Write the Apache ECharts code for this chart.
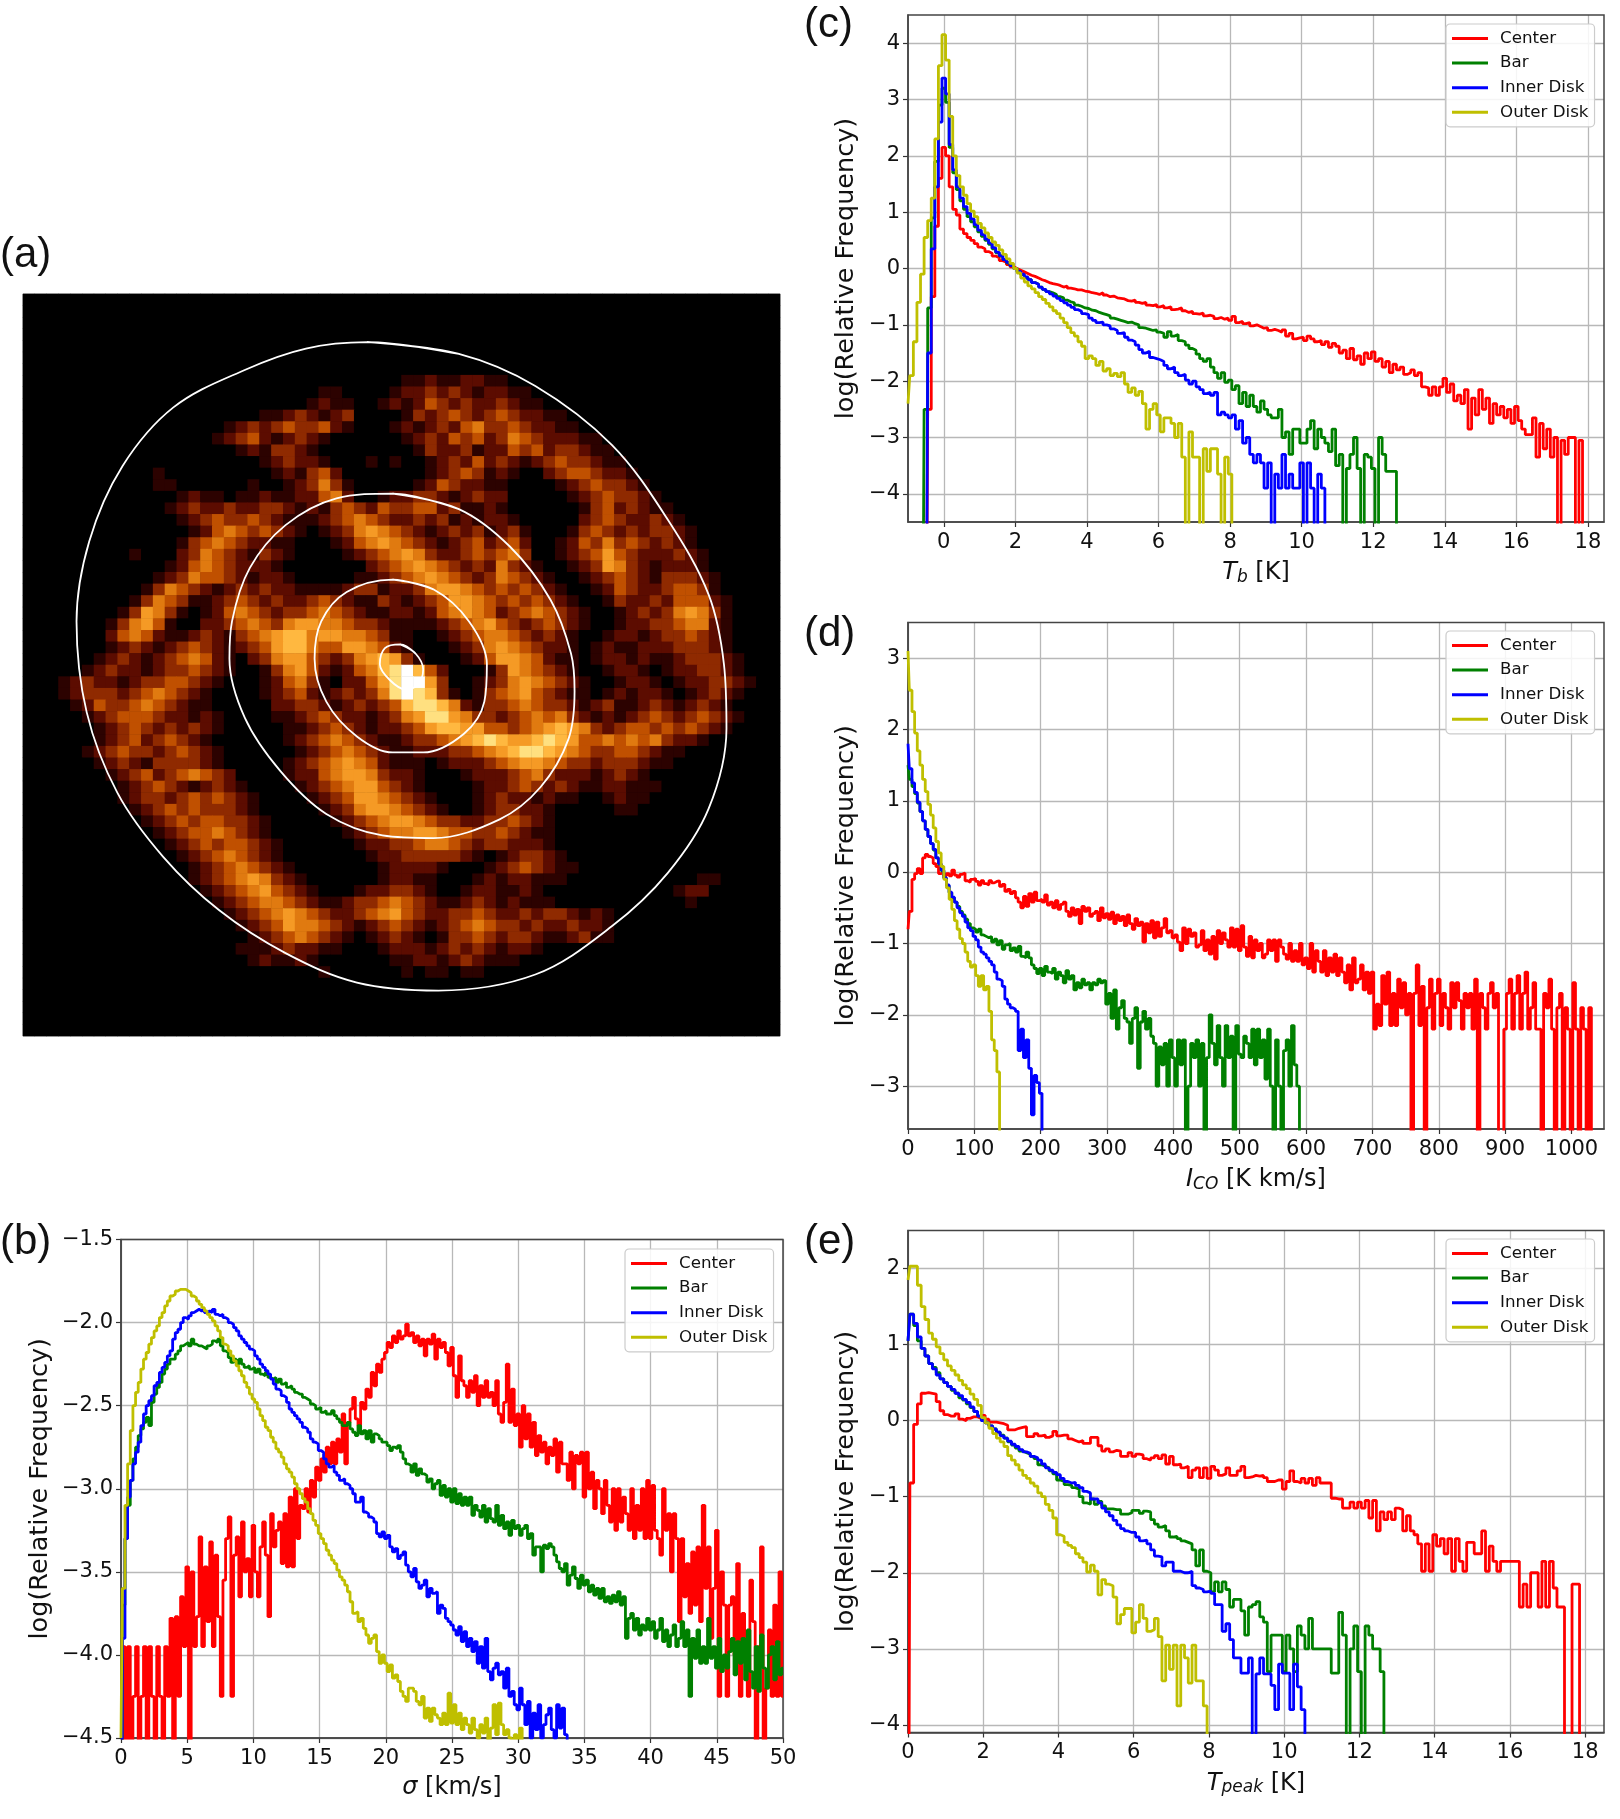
<!DOCTYPE html>
<html lang="en">
<head>
<meta charset="UTF-8"/>
<title>CO distribution histograms</title>
<style>
    * { margin: 0; padding: 0; }
    body { background: #fff; }
    #chart { width: 1620px; height: 1819px; }
</style>
<script src="https://cdn.jsdelivr.net/npm/echarts@6/dist/echarts.min.js"></script>
</head>
<body>
<div id="chart"></div>
<script>
const regionNames = ["Center", "Bar", "Inner Disk", "Outer Disk"];
const regionColors = ["#ff0000", "#008000", "#0000ff", "#bfbf00"];

// empty histogram bins are -9, they fall off the bottom of the axes

// panel (b) sigma, bins start at 0, 0.2 km/s wide
const bCenter = [
    -9,-3.95,-9,-3.95,-9,-4.25,-3.95,-9,-4.25,-3.95,
    -9,-3.95,-4.25,-9,-3.95,-4.25,-9,-3.95,-4.25,-3.78,
    -9,-3.77,-4.25,-3.65,-3.95,-3.47,-9,-3.5,-3.95,-3.77,
    -3.29,-3.95,-3.47,-3.8,-3.32,-3.95,-3.4,-3.77,-4.25,-3.55,
    -3.3,-3.17,-4.25,-3.4,-3.29,-3.65,-3.2,-3.5,-3.42,-3.65,
    -3.22,-3.5,-3.65,-3.35,-3.2,-3.4,-3.77,-3.15,-3.35,-3.25,
    -3.2,-3.45,-3.15,-3.47,-3.05,-3.47,-3,-3.3,-3.1,-3.12,
    -3,-3.14,-2.95,-3.05,-2.87,-2.95,-2.82,-2.9,-2.75,-2.85,
    -2.72,-2.85,-2.7,-2.78,-2.55,-2.85,-2.6,-2.52,-2.45,-2.58,
    -2.62,-2.48,-2.52,-2.4,-2.45,-2.3,-2.38,-2.25,-2.3,-2.22,
    -2.18,-2.12,-2.15,-2.08,-2.12,-2.05,-2.1,-2.08,-2.01,-2.08,
    -2.06,-2.12,-2.08,-2.14,-2.1,-2.2,-2.1,-2.13,-2.07,-2.22,
    -2.1,-2.15,-2.12,-2.18,-2.26,-2.15,-2.32,-2.45,-2.2,-2.35,
    -2.38,-2.45,-2.35,-2.42,-2.32,-2.5,-2.38,-2.45,-2.35,-2.45,
    -2.42,-2.5,-2.35,-2.55,-2.6,-2.48,-2.25,-2.6,-2.4,-2.62,
    -2.55,-2.75,-2.5,-2.7,-2.55,-2.75,-2.6,-2.8,-2.68,-2.78,
    -2.72,-2.85,-2.75,-2.8,-2.7,-2.9,-2.72,-2.85,-2.85,-2.95,
    -2.78,-3,-2.8,-2.85,-2.78,-3.05,-2.78,-3,-2.9,-3.12,
    -2.95,-3,-3.15,-2.95,-3.1,-3.2,-3,-3.25,-3,-3.2,
    -3.05,-3.15,-3.25,-3,-3.3,-3.1,-3.25,-3,-3.3,-2.95,
    -3.3,-2.98,-3.25,-3.3,-3.4,-3,-3.25,-3.15,-3.5,-3.15,
    -3.3,-3.8,-3.3,-3.65,-3.45,-3.75,-3.38,-3.7,-3.35,-3.8,
    -3.1,-3.6,-3.35,-3.9,-3.6,-3.25,-4.25,-3.5,-3.7,-4.25,
    -3.7,-3.65,-4,-3.45,-4.25,-3.75,-3.9,-4.25,-3.55,-3.8,
    -9,-3.95,-3.35,-9,-4.2,-3.85,-4.25,-3.7,-4.25,-3.5,
    -4.25
];
const bBar = [
    -9,-3.7,-3.3,-3.1,-2.95,-2.82,-2.75,-2.68,-2.64,-2.6,
    -2.57,-2.62,-2.48,-2.43,-2.39,-2.36,-2.31,-2.28,-2.25,-2.22,
    -2.22,-2.19,-2.17,-2.14,-2.13,-2.12,-2.14,-2.1,-2.13,-2.14,
    -2.14,-2.15,-2.16,-2.14,-2.13,-2.11,-2.12,-2.1,-2.14,-2.17,
    -2.18,-2.21,-2.24,-2.22,-2.25,-2.22,-2.25,-2.27,-2.26,-2.28,
    -2.27,-2.3,-2.28,-2.31,-2.32,-2.3,-2.33,-2.34,-2.33,-2.36,
    -2.34,-2.37,-2.36,-2.39,-2.38,-2.4,-2.42,-2.43,-2.43,-2.45,
    -2.46,-2.47,-2.49,-2.5,-2.52,-2.51,-2.54,-2.53,-2.55,-2.55,
    -2.53,-2.56,-2.58,-2.6,-2.62,-2.62,-2.6,-2.64,-2.66,-2.68,
    -2.62,-2.67,-2.65,-2.7,-2.65,-2.72,-2.67,-2.68,-2.7,-2.72,
    -2.72,-2.74,-2.77,-2.75,-2.76,-2.74,-2.78,-2.82,-2.85,-2.86,
    -2.9,-2.85,-2.92,-2.88,-2.91,-2.92,-2.96,-2.94,-3,-2.97,
    -2.95,-3.04,-2.98,-3.05,-3,-3.08,-3,-3.09,-3.03,-3.1,
    -3.05,-3.1,-3.05,-3.16,-3.1,-3.13,-3.17,-3.1,-3.2,-3.12,
    -3.18,-3.2,-3.1,-3.22,-3.16,-3.24,-3.2,-3.28,-3.19,-3.24,
    -3.22,-3.28,-3.24,-3.22,-3.3,-3.27,-3.4,-3.35,-3.35,-3.5,
    -3.34,-3.36,-3.33,-3.35,-3.4,-3.44,-3.48,-3.5,-3.45,-3.58,
    -3.52,-3.47,-3.54,-3.6,-3.52,-3.58,-3.55,-3.62,-3.58,-3.64,
    -3.6,-3.66,-3.6,-3.68,-3.65,-3.69,-3.64,-3.68,-3.62,-3.7,
    -3.65,-3.9,-3.78,-3.75,-3.85,-3.78,-3.88,-3.82,-3.85,-3.78,
    -3.85,-3.8,-3.9,-3.85,-3.78,-3.92,-3.85,-3.95,-3.88,-3.82,
    -3.95,-3.9,-3.8,-3.95,-3.85,-4.25,-3.9,-4.02,-3.85,-4.05,
    -3.95,-4.05,-3.78,-4.02,-3.95,-4.08,-3.9,-4.1,-4,-4.08,
    -3.98,-3.9,-4.12,-3.92,-4.05,-3.9,-4.15,-3.85,-4.1,-4.2,
    -3.95,-4.22,-3.88,-4.08,-4.2,-4,-3.95,-4.15,-3.92,-4.12,
    -4.08
];
const bInner = [
    -9,-3.9,-3.3,-3.05,-2.95,-2.85,-2.78,-2.72,-2.62,-2.55,
    -2.5,-2.47,-2.44,-2.38,-2.36,-2.3,-2.27,-2.24,-2.2,-2.17,
    -2.1,-2.06,-2.04,-2,-1.97,-1.98,-1.96,-1.94,-1.93,-1.92,
    -1.93,-1.92,-1.94,-1.93,-1.94,-1.92,-1.95,-1.96,-1.95,-1.97,
    -1.98,-2,-2.01,-2.03,-2.05,-2.08,-2.1,-2.12,-2.14,-2.16,
    -2.17,-2.2,-2.22,-2.25,-2.27,-2.29,-2.31,-2.34,-2.37,-2.4,
    -2.41,-2.44,-2.45,-2.48,-2.52,-2.54,-2.56,-2.58,-2.6,-2.63,
    -2.64,-2.66,-2.7,-2.72,-2.73,-2.77,-2.78,-2.82,-2.85,-2.87,
    -2.86,-2.9,-2.92,-2.95,-2.94,-2.97,-2.98,-3,-3.03,-3.08,
    -3.08,-3.05,-3.14,-3.15,-3.17,-3.18,-3.2,-3.27,-3.29,-3.26,
    -3.3,-3.28,-3.35,-3.38,-3.36,-3.42,-3.4,-3.38,-3.46,-3.5,
    -3.53,-3.48,-3.56,-3.6,-3.58,-3.55,-3.65,-3.6,-3.63,-3.62,
    -3.75,-3.7,-3.72,-3.78,-3.8,-3.82,-3.85,-3.88,-3.83,-3.92,
    -3.86,-3.95,-3.9,-3.98,-3.92,-4.05,-3.95,-4.08,-3.9,-4.1,
    -4.15,-4.08,-4.05,-4.12,-4.1,-4.2,-4.08,-4.25,-4.22,-4.3,
    -4.33,-4.2,-4.3,-4.42,-4.28,-4.5,-4.35,-4.45,-4.3,-4.5,
    -4.42,-4.36,-4.32,-4.45,-4.5,-4.3,-4.44,-4.32,-4.48,-9
];
const bOuter = [
    -4.5,-3.6,-3.1,-2.85,-2.65,-2.5,-2.42,-2.36,-2.28,-2.22,
    -2.18,-2.13,-2.09,-2.05,-2.02,-1.97,-1.94,-1.9,-1.87,-1.84,
    -1.83,-1.81,-1.8,-1.8,-1.8,-1.81,-1.82,-1.84,-1.85,-1.87,
    -1.89,-1.91,-1.93,-1.95,-1.97,-1.99,-2.02,-2.05,-2.09,-2.13,
    -2.14,-2.17,-2.2,-2.23,-2.26,-2.29,-2.32,-2.36,-2.39,-2.43,
    -2.46,-2.48,-2.52,-2.56,-2.59,-2.63,-2.65,-2.69,-2.72,-2.76,
    -2.78,-2.81,-2.85,-2.88,-2.9,-2.93,-2.97,-3,-3.03,-3.06,
    -3.08,-3.12,-3.15,-3.19,-3.22,-3.27,-3.3,-3.33,-3.37,-3.4,
    -3.43,-3.45,-3.49,-3.53,-3.55,-3.58,-3.62,-3.68,-3.75,-3.74,
    -3.8,-3.78,-3.84,-3.88,-3.93,-3.9,-3.88,-3.98,-4.05,-4,
    -4.05,-4.1,-4.06,-4.14,-4.12,-4.16,-4.22,-4.25,-4.28,-4.2,
    -4.2,-4.22,-4.28,-4.3,-4.25,-4.38,-4.32,-4.4,-4.32,-4.36,
    -4.38,-4.42,-4.35,-4.42,-4.23,-4.41,-4.3,-4.42,-4.35,-4.45,
    -4.38,-4.42,-4.47,-4.38,-4.45,-4.5,-4.42,-4.47,-4.38,-4.52,
    -4.44,-4.3,-4.48,-4.29,-4.42,-4.48,-4.45,-4.5,-4.6,-4.48,
    -4.6,-4.44,-9
];
const bXTicks = [0, 5, 10, 15, 20, 25, 30, 35, 40, 45, 50];
const bYTicks = [-4.5, -4, -3.5, -3, -2.5, -2, -1.5];

// panel (c) Tb, bins start at -1, 0.1 K wide
const cCenter = [
    -9,-9,-9,-9,-9,-9,-2.5,-.5,.75,1.6,
    2.15,2,1.45,1.05,.95,.7,.62,.55,.5,.44,
    .38,.35,.3,.27,.22,.19,.14,.11,.07,.03,
    0,-.03,-.06,-.09,-.12,-.14,-.17,-.2,-.22,-.25,
    -.27,-.28,-.3,-.33,-.31,-.35,-.36,-.38,-.38,-.4,
    -.41,-.43,-.44,-.46,-.43,-.47,-.5,-.49,-.52,-.53,
    -.54,-.57,-.58,-.56,-.6,-.62,-.6,-.65,-.66,-.64,
    -.68,-.66,-.7,-.68,-.73,-.72,-.7,-.75,-.78,-.76,
    -.8,-.81,-.79,-.84,-.83,-.85,-.89,-.87,-.9,-.88,
    -.92,-.85,-.96,-.94,-.98,-.96,-1.02,-1,-1.03,-1.06,
    -1.05,-1.1,-1.08,-1.1,-1.13,-1.09,-1.2,-1.15,-1.25,-1.23,
    -1.22,-1.28,-1.2,-1.25,-1.3,-1.28,-1.35,-1.3,-1.4,-1.33,
    -1.38,-1.5,-1.45,-1.6,-1.42,-1.62,-1.55,-1.7,-1.5,-1.6,
    -1.48,-1.65,-1.6,-1.75,-1.65,-1.85,-1.7,-1.8,-1.75,-1.88,
    -1.85,-1.8,-1.9,-1.85,-2.1,-2.12,-2.25,-2.1,-2.25,-2.1,
    -1.95,-2.2,-2.05,-2.35,-2.25,-2.4,-2.15,-2.85,-2.3,-2.6,
    -2.15,-2.5,-2.3,-2.75,-2.4,-2.6,-2.45,-2.65,-2.5,-2.75,
    -2.45,-2.7,-2.85,-2.95,-2.95,-2.65,-3.35,-2.75,-3.2,-2.85,
    -3.35,-3,-9,-3.05,-3.3,-3,-3,-9,-3.05,-9,
    -9
];
const cBar = [
    -9,-9,-9,-9,-9,-2.5,-.7,.9,1.9,2.9,
    3.2,2.95,2.15,1.7,1.4,1.2,1.05,.92,.83,.74,
    .65,.57,.5,.43,.35,.28,.22,.16,.1,.05,
    0,-.06,-.11,-.16,-.2,-.25,-.28,-.33,-.37,-.41,
    -.43,-.46,-.5,-.52,-.56,-.59,-.61,-.65,-.67,-.7,
    -.71,-.74,-.75,-.78,-.8,-.82,-.84,-.88,-.9,-.92,
    -.94,-.96,-.95,-.98,-1,-1.05,-1.06,-1.08,-1.1,-1.09,
    -1.13,-1.15,-1.22,-1.12,-1.2,-1.17,-1.28,-1.3,-1.36,-1.42,
    -1.45,-1.52,-1.6,-1.65,-1.6,-1.75,-1.85,-1.95,-1.85,-2.02,
    -1.98,-2.15,-2.08,-2.4,-2.2,-2.45,-2.25,-2.45,-2.55,-2.35,
    -2.5,-2.6,-2.65,-2.65,-2.5,-3,-2.9,-3.3,-2.85,-2.85,
    -3.1,-3.1,-2.85,-2.7,-3.2,-2.85,-3,-3.1,-3.25,-2.85,
    -3.5,-3.3,-9,-3.55,-3.3,-3,-3.55,-9,-3.3,-3.35,
    -3.55,-9,-3,-3.3,-3.6,-3.6,-3.6,-9
];
const cInner = [
    -9,-9,-9,-9,-9,-9,-1.5,.35,1.45,2.6,
    3.38,3.1,2.2,1.75,1.45,1.25,1.1,.98,.88,.78,
    .68,.6,.52,.45,.37,.29,.23,.16,.11,.05,
    0,-.05,-.1,-.15,-.2,-.25,-.28,-.33,-.37,-.41,
    -.45,-.49,-.53,-.57,-.61,-.65,-.69,-.73,-.76,-.8,
    -.82,-.88,-.92,-.96,-.95,-1,-1.02,-1.07,-1.1,-1.15,
    -1.14,-1.22,-1.27,-1.3,-1.36,-1.44,-1.5,-1.47,-1.58,-1.6,
    -1.62,-1.65,-1.72,-1.78,-1.75,-1.85,-1.9,-1.88,-1.98,-2.05,
    -2,-2.1,-2.15,-2.22,-2.2,-2.25,-2.2,-2.6,-2.55,-2.6,
    -2.65,-2.6,-2.85,-2.7,-3.1,-3,-3.3,-3.45,-3.3,-3.45,
    -3.9,-3.45,-9,-3.65,-3.9,-3.3,-3.9,-3.65,-3.9,-3.9,
    -3.45,-9,-3.45,-3.9,-9,-3.65,-3.9,-9
];
const cOuter = [
    -2.4,-1.9,-1.3,-.6,-.1,.55,.85,1.25,2.3,3.6,
    4.15,3.7,2.7,2,1.65,1.45,1.3,1.15,1.02,.92,
    .8,.72,.63,.55,.47,.41,.33,.25,.17,.09,
    0,-.08,-.17,-.24,-.31,-.36,-.43,-.5,-.55,-.62,
    -.68,-.75,-.8,-.88,-.96,-1.05,-1.14,-1.2,-1.3,-1.38,
    -1.6,-1.55,-1.6,-1.72,-1.65,-1.82,-1.78,-1.9,-1.86,-1.92,
    -1.85,-2.05,-2.2,-2.12,-2.25,-2.18,-2.4,-2.85,-2.5,-2.4,
    -2.6,-2.9,-2.65,-2.65,-2.75,-3,-2.75,-3.35,-9,-2.9,
    -3.35,-3.35,-9,-3.2,-3.6,-3.2,-3.2,-3.65,-9,-3.35,
    -3.65,-9
];
const cXTicks = [0, 2, 4, 6, 8, 10, 12, 14, 16, 18];
const cYTicks = [-4, -3, -2, -1, 0, 1, 2, 3, 4];

// panel (d) ICO, bins start at 0, 4 K km/s wide
const dCenter = [
    -.8,-.55,-.1,-.02,.05,-.02,.2,.25,.22,.2,
    .12,.08,-.02,0,-.05,-.02,-.05,.03,-.04,-.07,
    -.03,-.01,-.12,-.14,-.1,-.09,-.13,-.18,-.12,-.16,
    -.18,-.12,-.15,-.13,-.12,-.2,-.17,-.27,-.24,-.3,
    -.27,-.36,-.42,-.5,-.34,-.48,-.3,-.42,-.28,-.4,
    -.38,-.42,-.32,-.46,-.42,-.5,-.4,-.52,-.45,-.42,
    -.55,-.62,-.5,-.6,-.52,-.72,-.48,-.55,-.5,-.62,
    -.58,-.55,-.68,-.5,-.64,-.58,-.66,-.56,-.72,-.6,
    -.68,-.62,-.75,-.6,-.72,-.8,-.65,-.75,-.7,-.98,
    -.72,-.85,-.68,-.92,-.7,-.9,-.78,-.65,-.85,-.82,
    -.92,-.88,-.98,-1.1,-.78,-1,-.8,-.9,-.85,-1.05,
    -1.02,-.82,-1.1,-.95,-1.15,-.9,-1.22,-.82,-1,-.85,
    -.95,-1.05,-.78,-1.05,-.8,-1.1,-.75,-1.05,-1.18,-.9,
    -1.2,-.95,-1.1,-1,-1.2,-1.15,-.95,-1.1,-.95,-1.25,
    -.95,-1.05,-1.15,-1.22,-1,-1.25,-1.1,-1.25,-1,-1.3,
    -1.2,-1.35,-1,-1.4,-1.1,-1.25,-1.4,-1.1,-1.45,-1.2,
    -1.4,-1.15,-1.45,-1.2,-1.4,-1.55,-1.3,-1.65,-1.2,-1.55,
    -1.5,-1.3,-1.65,-1.4,-1.7,-1.4,-2.2,-1.85,-2.15,-1.45,
    -1.85,-1.4,-2.15,-1.7,-2.15,-1.5,-1.9,-1.55,-2,-1.7,
    -9,-1.7,-1.3,-2.15,-1.6,-9,-1.9,-1.5,-2.2,-1.7,
    -1.5,-2.15,-1.7,-1.9,-2.2,-1.55,-1.9,-1.55,-1.8,-2.2,
    -1.7,-1.9,-1.7,-2.2,-1.5,-9,-1.7,-1.9,-2.2,-1.7,
    -1.55,-1.9,-1.7,-9,-9,-2.2,-1.7,-1.5,-2.2,-1.7,
    -1.45,-2.2,-1.7,-1.4,-2.2,-1.9,-1.55,-2.2,-2.2,-9,
    -1.7,-1.9,-1.5,-2.2,-9,-1.9,-1.7,-9,-1.9,-2.2,
    -9,-1.55,-2.2,-9,-1.9,-2.2,-9,-1.9,-9
];
const dBar = [
    1.5,1.3,1.2,1.1,.97,.85,.72,.6,.5,.4,
    .31,.2,.11,.02,-.08,-.19,-.29,-.36,-.42,-.48,
    -.55,-.6,-.66,-.72,-.78,-.8,-.84,-.8,-.88,-.9,
    -.92,-.9,-.98,-.94,-1.02,-.96,-1.08,-1.02,-1,-1.1,
    -1.06,-1.12,-1.04,-1.18,-1.2,-1.12,-1.2,-1.3,-1.35,-1.42,
    -1.35,-1.45,-1.32,-1.4,-1.42,-1.35,-1.5,-1.4,-1.45,-1.55,
    -1.38,-1.5,-1.45,-1.65,-1.55,-1.62,-1.5,-1.58,-1.55,-1.65,
    -1.55,-1.58,-1.5,-1.55,-1.52,-1.85,-1.7,-2.05,-1.65,-2.2,
    -1.9,-1.8,-2.05,-2.1,-2.4,-2.05,-1.9,-2.75,-2.1,-1.95,
    -2.2,-2.05,-2.3,-2.4,-3,-2.45,-2.7,-2.4,-3,-2.35,
    -2.6,-3,-2.35,-2.7,-2.35,-9,-3,-2.4,-2.6,-2.35,
    -3,-2.4,-9,-2.6,-2,-2.4,-2.7,-2.15,-2.6,-3,
    -2.15,-2.6,-2.3,-9,-2.15,-2.55,-2.6,-2.3,-2.4,-2.6,
    -2.2,-2.7,-2.2,-2.6,-2.35,-2.9,-2.2,-3,-9,-2.35,
    -3,-9,-2.5,-2.35,-3,-2.15,-2.7,-3,-9
];
const dInner = [
    1.8,1.45,1.25,1.12,.98,.85,.72,.6,.5,.4,
    .32,.2,.12,.03,-.08,-.18,-.28,-.35,-.42,-.5,
    -.57,-.62,-.7,-.78,-.82,-.9,-.95,-1.05,-1.12,-1.15,
    -1.2,-1.25,-1.3,-1.4,-1.5,-1.52,-1.6,-1.78,-1.85,-1.9,
    -1.92,-1.95,-2.5,-2.2,-2.6,-2.35,-2.75,-3.4,-2.85,-2.95,
    -3.1,-9
];
const dOuter = [
    3.1,2.55,2.25,1.95,1.7,1.5,1.3,1.13,.95,.8,
    .62,.43,.27,.08,-.1,-.22,-.38,-.52,-.68,-.8,
    -.93,-1,-1.12,-1.25,-1.33,-1.3,-1.45,-1.6,-1.45,-1.65,
    -1.6,-1.95,-2.35,-2.5,-2.8,-9
];
const dXTicks = [0, 100, 200, 300, 400, 500, 600, 700, 800, 900, 1000];
const dYTicks = [-3, -2, -1, 0, 1, 2, 3];

// panel (e) Tpeak, bins start at 0, 0.1 K wide
const eCenter = [
    -9,-.82,-.05,.22,.36,.37,.36,.35,.25,.13,
    .08,.06,.06,.09,.02,0,.03,.05,.05,.03,
    .07,.02,-.02,-.02,-.03,-.04,-.06,-.12,-.12,-.1,
    -.09,-.08,-.21,-.21,-.17,-.2,-.19,-.22,-.2,-.14,
    -.2,-.19,-.19,-.24,-.26,-.28,-.26,-.3,-.3,-.22,
    -.22,-.33,-.4,-.37,-.41,-.39,-.4,-.47,-.47,-.42,
    -.47,-.44,-.45,-.5,-.52,-.49,-.46,-.5,-.45,-.57,
    -.47,-.58,-.57,-.62,-.6,-.75,-.65,-.62,-.75,-.62,
    -.76,-.6,-.65,-.72,-.7,-.62,-.72,-.72,-.66,-.6,
    -.75,-.74,-.72,-.73,-.72,-.75,-.8,-.8,-.78,-.78,
    -.9,-.8,-.66,-.8,-.82,-.76,-.82,-.76,-.85,-.75,
    -.82,-.82,-.82,-1.02,-1.03,-1.03,-1.15,-1.15,-1.07,-1.15,
    -1.07,-1.15,-1.05,-1.28,-1.05,-1.45,-1.2,-1.3,-1.2,-1.3,
    -1.15,-1.17,-1.45,-1.25,-1.45,-1.5,-1.62,-1.98,-1.62,-1.98,
    -1.5,-1.65,-1.55,-1.75,-1.55,-1.98,-1.55,-1.85,-1.98,-1.6,
    -1.6,-1.75,-1.75,-1.45,-1.98,-1.65,-1.85,-1.98,-1.85,-1.85,
    -1.85,-1.85,-1.85,-2.45,-2.15,-2.45,-2,-2,-2.45,-1.85,
    -2.45,-1.85,-2.2,-2.45,-2.45,-9,-9,-2.15,-2.15,-9
];
const eBar = [
    1.05,1.4,1.25,1.05,.95,.85,.75,.7,.63,.55,
    .5,.45,.4,.36,.3,.27,.22,.17,.12,.06,
    0,-.03,-.07,-.11,-.15,-.19,-.23,-.28,-.32,-.36,
    -.4,-.42,-.44,-.47,-.5,-.58,-.6,-.62,-.66,-.7,
    -.78,-.8,-.84,-.85,-.88,-.9,-1,-1.08,-1.1,-1.03,
    -1.1,-1.06,-1.12,-1.16,-1.16,-1.17,-1.17,-1.23,-1.23,-1.21,
    -1.18,-1.18,-1.22,-1.19,-1.2,-1.3,-1.36,-1.4,-1.38,-1.45,
    -1.53,-1.52,-1.55,-1.58,-1.6,-1.62,-1.7,-1.91,-1.7,-1.98,
    -2,-2.25,-2.12,-2.25,-2.12,-2.22,-2.45,-2.35,-2.35,-2.5,
    -2.82,-2.45,-2.42,-2.38,-2.58,-2.65,-3.3,-2.82,-2.82,-2.82,
    -3.3,-2.82,-3,-3.3,-2.7,-2.82,-3,-2.6,-3,-3,
    -3,-3,-3,-3.32,-3.32,-2.52,-2.82,-9,-3,-2.7,
    -3.3,-9,-2.7,-2.82,-3,-3,-3.3,-9
];
const eInner = [
    1.05,1.4,1.28,1.1,.95,.85,.75,.68,.6,.55,
    .5,.45,.41,.36,.33,.28,.24,.18,.12,.06,
    0,-.03,-.07,-.11,-.15,-.2,-.23,-.27,-.31,-.34,
    -.38,-.41,-.43,-.47,-.49,-.52,-.57,-.62,-.65,-.68,
    -.71,-.76,-.8,-.82,-.81,-.85,-.88,-.93,-.95,-1.03,
    -1.03,-1.08,-1.15,-1.2,-1.25,-1.31,-1.37,-1.42,-1.45,-1.47,
    -1.47,-1.53,-1.58,-1.57,-1.62,-1.7,-1.78,-1.79,-1.91,-1.86,
    -1.86,-1.98,-1.98,-2,-2,-1.98,-2.17,-2.2,-2.22,-2.25,
    -2.24,-2.27,-2.42,-2.42,-2.77,-2.67,-2.88,-3.12,-3.12,-3.32,
    -3.32,-3.12,-9,-3.33,-3.12,-3.33,-3.33,-3.48,-3.8,-3.2,
    -3.32,-3.32,-3.8,-3.2,-3.5,-3.8,-9
];
const eOuter = [
    1.85,2.03,2.03,1.78,1.5,1.33,1.15,1.07,.97,.88,
    .8,.72,.66,.6,.53,.47,.42,.35,.28,.2,
    .04,-.03,-.1,-.17,-.23,-.28,-.34,-.46,-.52,-.58,
    -.65,-.72,-.76,-.82,-.86,-.95,-1,-1.1,-1.18,-1.28,
    -1.5,-1.52,-1.6,-1.64,-1.67,-1.75,-1.8,-1.86,-1.99,-1.9,
    -1.98,-2.29,-2.09,-2.15,-2.17,-2.32,-2.67,-2.55,-2.47,-2.47,
    -2.79,-2.65,-2.42,-2.6,-2.77,-2.75,-2.6,-2.84,-3.42,-2.95,
    -3.27,-2.95,-3.75,-2.95,-3.12,-3.45,-2.95,-3.42,-3.42,-3.75,
    -9
];
const eXTicks = [0, 2, 4, 6, 8, 10, 12, 14, 16, 18];
const eYTicks = [-4, -3, -2, -1, 0, 1, 2];

// panel (a) CO map, one string per row from the top, brightness 0-9 by eye
const mapRows = [
    "00000000 00000000 00000000 00000000 00000000 00000000 00000000 00000000",
    "00000000 00000000 00000000 00000000 00000000 00000000 00000000 00000000",
    "00000000 00000000 00000000 00000000 00000000 00000000 00000000 00000000",
    "00000000 00000000 00000000 00000000 00000000 00000000 00000000 00000000",
    "00000000 00000000 00000000 00000000 00000000 00000000 00000000 00000000",
    "00000000 00000000 00000000 00000000 00000000 00000000 00000000 00000000",
    "00000000 00000000 00000000 00000000 00000000 00000000 00000000 00000000",
    "00000000 00000000 00000000 00000000 11211221 10000000 00000000 00000000",
    "00000000 00000000 00000000 01100001 22323212 21100000 00000000 00000000",
    "00000000 00000000 00000000 12110012 12432322 32110000 00000000 00000000",
    "00000000 00000000 00001123 21230000 13234323 43221100 00000000 00000000",
    "00000000 00000000 01232343 34210001 21232453 34322110 00000000 00000000",
    "00000000 00000000 12342123 21000000 12324342 35432221 10000000 00000000",
    "00000000 00000000 00121332 10000000 01322312 24342332 11000000 00000000",
    "00000000 00000000 00001232 21000101 00123242 32123433 21100000 00000000",
    "00000000 00010000 00000121 34200000 00123431 21002344 32210000 00000000",
    "00000000 00011000 00010012 35310000 01243221 10000123 43321000 00000000",
    "00000000 00000121 10112112 24520012 23321232 20000012 34332100 00000000",
    "00000000 00001232 23223321 21343243 34423112 10000001 34232110 00000000",
    "00000000 00000123 43343211 12345432 23231212 21000002 34322321 00000000",
    "00000000 00000012 45434321 01235654 32123231 23100013 43232332 10000000",
    "00000000 00000134 54322110 00124565 43212342 34200124 35343232 10000000",
    "00000000 01000235 43213210 00012345 65322343 45300123 46432223 21000000",
    "00000000 00001245 43222100 00000234 56543232 53210012 36532122 21000000",
    "00000000 00012354 43212210 00001123 45654323 54321001 23432133 32100000",
    "00000000 00135432 12323221 11123312 23566543 43432100 12432234 43100000",
    "00000000 01354311 23432322 34321132 12346654 34343210 01322324 44210000",
    "00000000 13653101 24543233 45432112 21245654 23454321 00123235 65310000",
    "00000001 35641002 23454356 65543321 11123456 43234321 00122334 55210000",
    "00000002 45421123 21345677 56655431 10012345 54323210 01221233 43210000",
    "00000001 23212343 21234677 54466542 10001235 65432210 12112223 33210000",
    "00000012 32123454 21023566 43235676 31000124 66542110 12212112 33321000",
    "00000123 22123343 21001356 42124578 97420001 36543210 01221012 23321000",
    "00012322 12334432 10001245 31022468 99630012 35654321 00122101 22332100",
    "00012333 23454321 00001234 21232358 98731013 45643211 01212210 12321000",
    "00001243 34543211 00000223 32123234 78875213 34543321 23112321 23210000",
    "00000123 44432212 10000112 34322123 56886533 23454532 12123432 34321000",
    "00000012 34323232 10000011 23432122 34677664 43456765 32344343 43210000",
    "00000012 34234321 00000012 34543211 23345678 76678764 45454532 21000000",
    "00000123 43323432 10000001 23454321 12223345 67887654 33443211 00000000",
    "00000012 32133332 10000012 34565421 11012223 45665433 23332110 00000000",
    "00000001 23423454 32000012 24566532 21000122 23453222 12321000 00000000",
    "00000000 12343212 32100001 23456643 21000012 23432321 12211100 00000000",
    "00000000 12332343 43210000 12346654 32100012 32212110 01211000 00000000",
    "00000000 01234343 33210000 01235665 43210012 33221000 00110000 00000000",
    "00000000 00123434 43321000 00123456 65433223 34321000 00000000 00000000",
    "00000000 00012344 54321000 00012345 56654433 43211000 00000000 00000000",
    "00000000 00001234 34432100 00001223 34554323 32221000 00000000 00000000",
    "00000000 00000123 45432100 00000122 33333210 12332100 00000000 00000000",
    "00000000 00000012 34543210 00000012 22210001 23432110 00000000 00000000",
    "00000000 00000012 34565321 00000012 21100012 12211100 00000000 01100000",
    "00000000 00000001 23456432 10001223 32100122 11210000 00000001 22000000",
    "00000000 00000000 12345543 21123345 43211232 12111000 00000000 10000000",
    "00000000 00000000 01234565 43223456 43223343 22323321 21000000 00000000",
    "00000000 00000000 00123465 54321234 32123454 33232232 21000000 00000000",
    "00000000 00000000 00012345 43210123 21013343 23321123 11000000 00000000",
    "00000000 00000000 00111232 21100012 22123232 12210000 00000000 00000000",
    "00000000 00000000 00012112 10000001 12212321 11000000 00000000 00000000",
    "00000000 00000000 00000000 01000000 10110110 00000000 00000000 00000000",
    "00000000 00000000 00000000 00000000 00000000 00000000 00000000 00000000",
    "00000000 00000000 00000000 00000000 00000000 00000000 00000000 00000000",
    "00000000 00000000 00000000 00000000 00000000 00000000 00000000 00000000",
    "00000000 00000000 00000000 00000000 00000000 00000000 00000000 00000000",
    "00000000 00000000 00000000 00000000 00000000 00000000 00000000 00000000"
];
const ringOuter = [[720,228],[900,250],[1050,310],[1200,420],[1310,560],[1390,700],[1420,830],[1425,950],[1390,1100],[1310,1220],[1200,1320],[1050,1410],[860,1440],[700,1425],[560,1370],[430,1290],[320,1190],[230,1070],[170,920],[150,750],[175,600],[240,460],[340,350],[480,280],[600,240],[720,228],[900,250]];
const ringMiddle = [[770,511],[900,540],[1000,610],[1080,710],[1120,810],[1127,880],[1115,970],[1060,1060],[980,1120],[850,1155],[750,1150],[640,1110],[550,1030],[480,930],[450,820],[455,750],[490,650],[560,570],[660,520],[770,511],[900,540]];
const ringInner = [[770,672],[850,690],[920,750],[955,830],[950,900],[910,960],[830,995],[770,995],[700,965],[640,900],[617,820],[630,750],[680,695],[770,672],[850,690]];
const ringCore = [[785,793],[815,810],[830,840],[820,868],[795,877],[765,860],[745,830],[755,800],[785,793],[815,810]];

const font = "DejaVu Sans";
const toBins = (values, start, width) =>
    values.map((v, i) => [Number((start + i * width).toFixed(3)), v]);
const minusSign = (v) => String(v).replace("-", "\u2212");

const panels = [
    {
        box: [121, 1239.5, 662, 498.5], x: [0, 50], y: [-4.5, -1.5],
        xTicks: bXTicks, yTicks: bYTicks, start: 0, width: 0.2,
        series: [bCenter, bBar, bInner, bOuter],
        name: "{i|\u03c3} [km/s]", legendTop: 1249, legendLeft: 625,
        yFormat: (v) => minusSign(v.toFixed(1)), yGap: 68
    },
    {
        box: [908, 15, 696, 507], x: [-1, 18.45], y: [-4.5, 4.5],
        xTicks: cXTicks, yTicks: cYTicks, start: -1, width: 0.1,
        series: [cCenter, cBar, cInner, cOuter],
        name: "{i|T}{s|b} [K]", legendTop: 24, legendLeft: 1446,
        yFormat: minusSign, yGap: 49
    },
    {
        box: [908, 622.5, 696, 506.5], x: [0, 1049], y: [-3.6, 3.5],
        xTicks: dXTicks, yTicks: dYTicks, start: 0, width: 4,
        series: [dCenter, dBar, dInner, dOuter],
        name: "{i|I}{s|CO} [K km/s]", legendTop: 631, legendLeft: 1446,
        yFormat: minusSign, yGap: 49
    },
    {
        box: [908, 1230.5, 696, 502], x: [0, 18.5], y: [-4.1, 2.5],
        xTicks: eXTicks, yTicks: eYTicks, start: 0, width: 0.1,
        series: [eCenter, eBar, eInner, eOuter],
        name: "{i|T}{s|peak} [K]", legendTop: 1239, legendLeft: 1446,
        yFormat: minusSign, yGap: 49
    }
];

const grids = [];
const xAxes = [];
const yAxes = [];
const series = [];
const legends = [];

panels.forEach((p) => {
    const g = grids.length;
    grids.push({
        left: p.box[0], top: p.box[1], width: p.box[2], height: p.box[3],
        show: true, borderColor: "#444", borderWidth: 1.5, z: 3
    });
    const tickStyle = { show: true, length: 5, lineStyle: { color: "#333", width: 1.2 } };
    xAxes.push({
        type: "value", gridIndex: g, min: p.x[0], max: p.x[1],
        name: p.name, nameLocation: "middle", nameGap: 38,
        nameTextStyle: {
            fontFamily: font, fontSize: 24, color: "#111",
            rich: {
                i: { fontFamily: font, fontSize: 24, fontStyle: "italic", color: "#111" },
                s: { fontFamily: font, fontSize: 17, fontStyle: "italic", color: "#111", padding: [9, 0, 0, 0] }
            }
        },
        axisLine: { show: true, onZero: false, lineStyle: { color: "#444", width: 1.5 } },
        axisTick: { ...tickStyle, customValues: p.xTicks },
        axisLabel: { customValues: p.xTicks, fontFamily: font, fontSize: 21, color: "#111", margin: 10, formatter: minusSign },
        splitLine: { show: true, lineStyle: { color: "#b8b8b8", width: 1.3 } }
    });
    yAxes.push({
        type: "value", gridIndex: g, min: p.y[0], max: p.y[1],
        name: "log(Relative Frequency)", nameLocation: "middle", nameGap: p.yGap,
        nameTextStyle: { fontFamily: font, fontSize: 25.5, color: "#111" },
        axisLine: { show: true, onZero: false, lineStyle: { color: "#444", width: 1.5 } },
        axisTick: { ...tickStyle, customValues: p.yTicks },
        axisLabel: { customValues: p.yTicks, fontFamily: font, fontSize: 21, color: "#111", margin: 8, padding: [5, 0, 0, 0], formatter: p.yFormat },
        splitLine: { show: true, lineStyle: { color: "#b8b8b8", width: 1.3 } }
    });
    p.series.forEach((values, k) => {
        series.push({
            name: regionNames[k], type: "line", xAxisIndex: g, yAxisIndex: g,
            data: toBins(values, p.start, p.width),
            step: "middle", symbol: "none", clip: true, z: 4 + k,
            lineStyle: { color: regionColors[k], width: 2.8 },
            itemStyle: { color: regionColors[k] }
        });
    });
    legends.push({
        left: p.legendLeft, top: p.legendTop, orient: "vertical", selectedMode: false,
        data: regionNames, icon: "rect", itemWidth: 36, itemHeight: 3, itemGap: 7.6,
        padding: [6, 6, 6, 6], backgroundColor: "rgba(255,255,255,0.85)",
        borderColor: "#ccc", borderWidth: 1.2, borderRadius: 4, z: 20,
        textStyle: { fontFamily: font, fontSize: 16.7, color: "#111", padding: [0, 0, 0, 7] }
    });
});

// panel (a): heatmap on band axes, rings on value axes over the same box
const mapBox = { left: 23, top: 294, width: 757, height: 742 };
const mapLines = mapRows.map((row) => row.replace(/ /g, ""));
const mapCols = Array.from({ length: mapLines[0].length }, (_, i) => i);
const mapCells = [];
mapLines.forEach((row, r) => {
    for (let c = 0; c < row.length; c++) {
        mapCells.push([c, r, Number(row[c])]);
    }
});
const mapGrid = grids.length;
grids.push({ ...mapBox, show: true, backgroundColor: "#000", borderColor: "#888", borderWidth: 1 });
xAxes.push({ type: "category", gridIndex: mapGrid, data: mapCols, show: false });
yAxes.push({ type: "category", gridIndex: mapGrid, data: mapLines.map((_, i) => i), inverse: true, show: false });
series.push({
    type: "heatmap", xAxisIndex: mapGrid, yAxisIndex: mapGrid, data: mapCells, progressive: 0
});
const heatIndex = series.length - 1;
const ringGrid = grids.length;
grids.push({ ...mapBox });
xAxes.push({ type: "value", gridIndex: ringGrid, min: 45, max: 1530, show: false });
yAxes.push({ type: "value", gridIndex: ringGrid, min: 138, max: 1525, inverse: true, show: false });
[ringOuter, ringMiddle, ringInner, ringCore].forEach((ring) => {
    series.push({
        type: "line", xAxisIndex: ringGrid, yAxisIndex: ringGrid, data: ring, smooth: 0.35,
        symbol: "none", z: 10, lineStyle: { color: "#fff", width: 1.8 }
    });
});

const letter = (text, left, top) => ({
    text, left, top, padding: 0,
    textStyle: { fontFamily: "Liberation Sans", fontSize: 42, fontWeight: "normal", color: "#111" }
});

const myChart = echarts.init(document.getElementById("chart"));
myChart.setOption({
    animation: false,
    backgroundColor: "#fff",
    title: [
        letter("(a)", 0, 234),
        letter("(b)", 0, 1221),
        letter("(c)", 804, 4),
        letter("(d)", 804, 613),
        letter("(e)", 804, 1221)
    ],
    grid: grids,
    xAxis: xAxes,
    yAxis: yAxes,
    legend: legends,
    visualMap: {
        show: false, seriesIndex: heatIndex, min: 0, max: 9,
        inRange: { color: ["#000000", "#2c0200", "#5c0c00", "#8f2a00", "#c05000", "#e07a10", "#f59a25", "#ffb840", "#ffe080", "#ffffff"] }
    },
    series: series
});
</script>
</body>
</html>
